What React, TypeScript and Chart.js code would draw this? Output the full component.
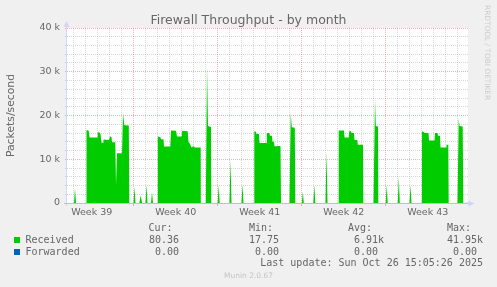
import { useEffect, useRef } from "react";
import { Chart, registerables } from "chart.js";

Chart.register(...registerables);

// Time axis: hours since Tue 23 Sep 2025 00:00. Values in thousands of packets/second.
const hours = [
  11.6,
  25.6, 27.6, 29.6,
  50.4, 50.6, 55, 56.6, 71.6, 73, 76.6, 78.6, 80.6, 83.6, 84.6, 95.6, 97.6, 100.6, 101.6, 108.2, 109.6, 111.6, 121.6, 123.6, 126.2, 135.2, 136.2,
  144.6, 146.6, 148.6,
  156.2, 159, 161.8,
  168.6, 170.6, 172.6,
  179.6, 181.6, 183.6,
  193, 193.2, 198.6, 199.6, 204.6, 205.6, 218.2, 219.6, 229.6, 231.6, 241, 242, 253, 254.6, 257.6, 260.6, 264.6, 267.6, 279, 279.2,
  289.2, 291.6, 293.6, 299.6, 300.2,
  313, 315, 317,
  336.6, 338.6, 340.6,
  360.6, 362.6, 364.6,
  386, 386.2, 389.6, 390.6, 395.6, 396.6, 410.2, 411.2, 416.2, 417.6, 421.6, 422.6, 425.6, 426.6, 432.6, 433.6, 438.6, 439.6,
  456.6, 459, 461.2, 467.2, 468.2,
  481.2, 483.2, 485.2,
  504.2, 506.2, 508.2,
  528.6, 530.6, 532.6,
  554.8, 555, 565.6, 566.6, 575, 576.2, 579.6, 580.6, 585.6, 586.6, 592.2, 593.2, 603.6, 604.2,
  624.6, 627.6, 629.2, 633.6, 634.2,
  649, 651, 653,
  673.2, 675.2, 677.2,
  696.6, 698.6, 700.6,
  721.4, 721.6, 725.6, 726.6, 734.6, 735.6, 746.6, 747.6, 752.6, 753.6, 757.6, 758.6, 769.6, 770.6, 774.2, 775,
  792.6, 795, 796.6, 803, 804.2,
  813.6,
];

const receivedK = [
  0,
  0, 3.4, 0,
  0, 16.7, 16.5, 15.0, 15.0, 16.2, 16.1, 15.8, 13.8, 13.8, 14.5, 14.4, 15.2, 15.1, 13.9, 13.9, 4.0, 11.4, 11.4, 20.5, 17.8, 17.7, 0,
  0, 3.7, 0,
  0, 1.7, 0,
  0, 4.2, 0,
  0, 2.5, 0,
  0, 15.2, 15.0, 14.6, 14.6, 12.9, 12.9, 16.6, 16.5, 15.2, 15.2, 16.5, 16.4, 14.0, 13.5, 12.7, 13.0, 12.7, 12.7, 0,
  0, 31.2, 17.6, 17.4, 0,
  0, 4.1, 0,
  0, 9.9, 0,
  0, 4.3, 0,
  0, 16.4, 16.3, 15.8, 15.8, 13.7, 13.7, 16.0, 16.0, 15.4, 15.4, 14.0, 14.0, 13.0, 13.0, 13.1, 13.0, 0,
  0, 20.6, 17.3, 17.2, 0,
  0, 2.6, 0,
  0, 4.1, 0,
  0, 11.8, 0,
  0, 16.6, 16.6, 15.0, 15.0, 16.4, 16.4, 16.0, 16.0, 14.4, 14.4, 13.3, 13.3, 0,
  0, 23.6, 17.6, 17.5, 0,
  0, 4.1, 0,
  0, 6.0, 0,
  0, 4.1, 0,
  0, 16.4, 16.2, 16.0, 16.0, 14.3, 14.3, 16.0, 16.0, 15.4, 15.4, 12.7, 12.7, 13.3, 13.3, 0,
  0, 19.4, 17.6, 17.5, 0,
  0.08,
];

const forwardedHours = [11.6, 813.6];
const forwardedK = [0, 0];

const xMinHours = 11.6;
const xMaxHours = 813.6;
const yMaxK = 40;
const yStepK = 2;
const yMajorK = 10;

const dayTickHours = [
  24, 48, 72, 96, 120, 144, 168, 192, 216, 240, 264, 288, 312, 336, 360, 384, 408,
  432, 456, 480, 504, 528, 552, 576, 600, 624, 648, 672, 696, 720, 744, 768, 792,
];
const weekStartHours = [144, 312, 480, 648];
const weekLabelHours = [61, 229, 397, 565, 733];
const weekLabels = ["Week 39", "Week 40", "Week 41", "Week 42", "Week 43"];

const seriesNames = ["Received", "Forwarded"];
const seriesColors = ["#00cc00", "#0066b3"];
const curValues = ["80.36", "0.00"];
const minValues = ["17.75", "0.00"];
const avgValues = ["6.91k", "0.00 "];
const maxValues = ["41.95k", "0.00 "];

const TITLE = "Firewall Throughput - by month";
const Y_TITLE = "Packets/second";
const LAST_UPDATE = "Last update: Sun Oct 26 15:05:26 2025";
const FOOTER = "Munin 2.0.67";
const WATERMARK = "RRDTOOL / TOBI OETIKER";

const MINOR = "rgba(143,143,143,0.36)";
const MAJOR = "rgba(222,79,79,0.42)";
const AXIS = "#cfd6f8";

const frame = {
  id: "munin-frame",
  beforeDraw(chart: any) {
    const { ctx, chartArea } = chart;
    const { left, top, right, bottom } = chartArea;
    ctx.save();
    ctx.fillStyle = "#ffffff";
    ctx.fillRect(left, top, right - left, bottom - top);
    ctx.restore();
  },
  afterDraw(chart: any) {
    const { ctx, chartArea } = chart;
    const { left, top, right, bottom } = chartArea;
    ctx.save();
    ctx.lineWidth = 1;
    ctx.strokeStyle = AXIS;
    ctx.beginPath();
    ctx.moveTo(left - 0.5, bottom + 3);
    ctx.lineTo(left - 0.5, top - 1);
    ctx.stroke();
    ctx.strokeStyle = "#b6c0f0";
    ctx.beginPath();
    ctx.moveTo(left - 3, bottom + 0.5);
    ctx.lineTo(right + 1, bottom + 0.5);
    ctx.stroke();
    ctx.fillStyle = AXIS;
    ctx.beginPath();
    ctx.moveTo(left - 0.5, top - 7);
    ctx.lineTo(left - 3.5, top - 1);
    ctx.lineTo(left + 2.5, top - 1);
    ctx.closePath();
    ctx.fill();
    ctx.beginPath();
    ctx.moveTo(right + 6.5, bottom + 0.5);
    ctx.lineTo(right + 0.5, bottom - 2.5);
    ctx.lineTo(right + 0.5, bottom + 3.5);
    ctx.closePath();
    ctx.fill();
    ctx.restore();
  },
};

const sans = "'DejaVu Sans', sans-serif";
const mono = "'DejaVu Sans Mono', monospace";

const abs = (extra: any) => ({ position: "absolute" as const, whiteSpace: "pre" as const, ...extra });

export default function App() {
  const ref = useRef<HTMLCanvasElement>(null);

  useEffect(() => {
    const canvas = ref.current;
    if (!canvas) return;
    Chart.defaults.font.family = sans;
    const chart = new Chart(canvas, {
      type: "line",
      data: {
        datasets: [
          {
            label: seriesNames[0],
            data: hours.map((h, i) => ({ x: h, y: receivedK[i] })),
            fill: "origin",
            backgroundColor: seriesColors[0],
            borderColor: "rgba(0,0,0,0)",
            borderWidth: 0,
            pointRadius: 0,
            tension: 0,
          },
          {
            label: seriesNames[1],
            data: forwardedHours.map((h, i) => ({ x: h, y: forwardedK[i] })),
            fill: false,
            borderColor: "rgba(0,0,0,0)",
            borderWidth: 0,
            pointRadius: 0,
          },
        ],
      },
      options: {
        animation: false,
        responsive: false,
        devicePixelRatio: 1,
        events: [],
        layout: { padding: { left: 0, right: 29, top: 28, bottom: 64 } },
        plugins: {
          legend: { display: false },
          tooltip: { enabled: false },
          title: { display: false },
        },
        scales: {
          x: {
            type: "linear",
            min: xMinHours,
            max: xMaxHours,
            afterFit: (s: any) => {
              s.height = 20;
            },
            afterBuildTicks: (s: any) => {
              s.ticks = [...dayTickHours, ...weekLabelHours]
                .sort((a, b) => a - b)
                .map((v) => ({ value: v }));
            },
            ticks: {
              autoSkip: false,
              maxRotation: 0,
              minRotation: 0,
              padding: 1,
              color: "#666666",
              font: { size: 9.5, family: sans },
              callback: (v: any) => {
                const i = weekLabelHours.indexOf(Number(v));
                return i >= 0 ? weekLabels[i] : "";
              },
            },
            grid: {
              lineWidth: 1,
              drawTicks: true,
              tickLength: 3,
              color: (ctx: any) => {
                const v = ctx.tick ? ctx.tick.value : 0;
                if (weekStartHours.includes(v)) return MAJOR;
                if (dayTickHours.includes(v)) return MINOR;
                return "rgba(0,0,0,0)";
              },
              tickColor: (ctx: any) => {
                const v = ctx.tick ? ctx.tick.value : 0;
                return weekStartHours.includes(v) ? MAJOR : "rgba(0,0,0,0)";
              },
            },
            border: { display: false, dash: [1, 1] },
          },
          y: {
            type: "linear",
            min: 0,
            max: yMaxK,
            afterFit: (s: any) => {
              s.width = 67;
            },
            title: {
              display: true,
              text: Y_TITLE,
              color: "#666666",
              font: { size: 10.8, family: sans },
              padding: { top: 4.5, bottom: 0 },
            },
            ticks: {
              stepSize: yStepK,
              autoSkip: false,
              padding: 5,
              color: "#666666",
              font: { size: 9.5, family: sans },
              callback: (v: any) => {
                const n = Number(v);
                if (n % yMajorK !== 0) return "";
                return n === 0 ? "0" : `${n} k`;
              },
            },
            grid: {
              lineWidth: 1,
              drawTicks: true,
              tickLength: 2,
              color: (ctx: any) => {
                const v = ctx.tick ? ctx.tick.value : 0;
                return v % yMajorK === 0 ? MAJOR : MINOR;
              },
              tickColor: (ctx: any) => {
                const v = ctx.tick ? ctx.tick.value : 0;
                return v % yMajorK === 0 ? MAJOR : MINOR;
              },
            },
            border: { display: false, dash: [1, 1] },
          },
        },
      } as any,
      plugins: [frame],
    });
    return () => chart.destroy();
  }, []);

  const legendText = { fontFamily: mono, fontSize: "10px", lineHeight: "12px", color: "#666666" };
  const rowTops = [233.9, 245.7];

  return (
    <div
      style={{
        position: "absolute",
        left: 0,
        top: 0,
        width: 497,
        height: 287,
        background: "#f0f0f0",
        overflow: "hidden",
      }}
    >
      <canvas ref={ref} width={497} height={287} style={{ position: "absolute", left: 0, top: 0, width: 497, height: 287 }} />
      <div
        style={abs({
          left: 0,
          top: 11.7,
          width: 497,
          textAlign: "center",
          fontFamily: sans,
          fontSize: "12.5px",
          lineHeight: "15px",
          color: "#666666",
        })}
      >
        {TITLE}
      </div>
      <div
        style={abs({
          left: 483,
          top: 5,
          writingMode: "vertical-rl",
          fontFamily: sans,
          fontSize: "7.4px",
          lineHeight: "9px",
          color: "#cccccc",
        })}
      >
        {WATERMARK}
      </div>
      <div style={abs({ left: 148.4, top: 222.2, ...legendText })}>Cur:</div>
      <div style={abs({ left: 249, top: 222.2, ...legendText })}>Min:</div>
      <div style={abs({ left: 348, top: 222.2, ...legendText })}>Avg:</div>
      <div style={abs({ left: 447, top: 222.2, ...legendText })}>Max:</div>
      {seriesNames.map((name, i) => (
        <div key={name}>
          <div
            style={abs({
              left: 14,
              top: rowTops[i] + 3.2,
              width: 6,
              height: 6,
              background: seriesColors[i],
            })}
          />
          <div style={abs({ left: 25.5, top: rowTops[i], ...legendText })}>{name}</div>
          <div style={abs({ right: 497 - 179, top: rowTops[i], textAlign: "right", ...legendText })}>{curValues[i]}</div>
          <div style={abs({ right: 497 - 279, top: rowTops[i], textAlign: "right", ...legendText })}>{minValues[i]}</div>
          <div style={abs({ right: 497 - 384, top: rowTops[i], textAlign: "right", ...legendText })}>{avgValues[i]}</div>
          <div style={abs({ right: 497 - 483, top: rowTops[i], textAlign: "right", ...legendText })}>{maxValues[i]}</div>
        </div>
      ))}
      <div style={abs({ right: 497 - 483, top: 256.5, textAlign: "right", ...legendText })}>{LAST_UPDATE}</div>
      <div
        style={abs({
          left: 0,
          top: 271.4,
          width: 497,
          textAlign: "center",
          fontFamily: sans,
          fontSize: "7.5px",
          lineHeight: "10px",
          color: "#c4c4c4",
        })}
      >
        {FOOTER}
      </div>
    </div>
  );
}
